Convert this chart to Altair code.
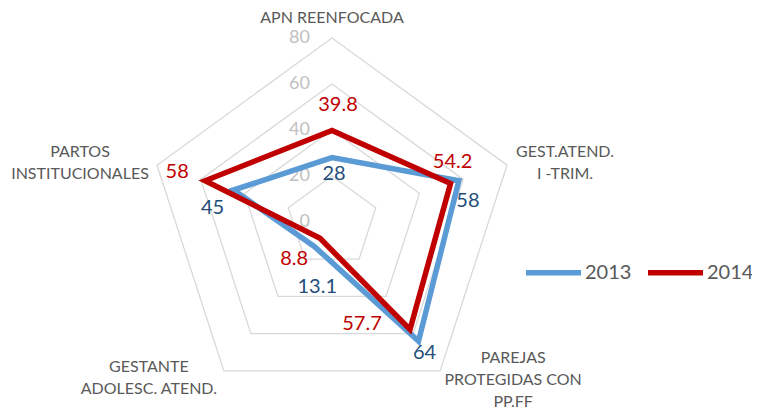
import altair as alt
import pandas as pd

# ---------------- data ----------------
categories = [
    "APN REENFOCADA",
    "GEST.ATEND.\nI -TRIM.",
    "PAREJAS\nPROTEGIDAS CON\nPP.FF",
    "GESTANTE\nADOLESC. ATEND.",
    "PARTOS\nINSTITUCIONALES",
]
series_names = ["2013", "2014"]
values_2013 = [28, 58, 64, 13.1, 45]
values_2014 = [39.8, 54.2, 57.7, 8.8, 58]
ring_values = [20, 40, 60, 80]
tick_values = [0, 20, 40, 60, 80]
axis_max = 80

# ---------------- layout / style ----------------
W, H = 744, 400
R_PX = 184          # pixel radius of the outer ring
CX, CY = 324, 214   # centre inside plot area
k = R_PX / axis_max
x_scale = alt.Scale(domain=[-CX / k, (W - CX) / k], nice=False, zero=False)
y_scale = alt.Scale(domain=[-(H - CY) / k, CY / k], nice=False, zero=False)

FONT = "Lato"
BLUE, RED = "#5B9BD5", "#C00000"
BLUE_TXT = "#1F4E79"
GRID = "#D9D9D9"
CAT_TXT = "#595959"
TICK_TXT = "#BFBFBF"
LINE_H = 22

n = len(categories)


def closed_rows(vals, **extra):
    rows = []
    for j in range(n + 2):
        i = j % n
        rows.append(dict(idx=i, order=j, value=vals[i], **extra))
    return rows


series_vals = {"2013": values_2013, "2014": values_2014}
series_df = pd.DataFrame(
    closed_rows(values_2013, series="2013") + closed_rows(values_2014, series="2014")
)
grid_rows = []
for r in ring_values:
    grid_rows += closed_rows([r] * n, ring=r)
grid_df = pd.DataFrame(grid_rows)

label_df = pd.DataFrame(
    [
        dict(series=s, idx=i, value=v, label=f"{v:g}")
        for s in series_names
        for i, v in enumerate(series_vals[s])
    ]
)
cat_df = pd.DataFrame([dict(idx=i, value=axis_max, label=c) for i, c in enumerate(categories)])
tick_df = pd.DataFrame([dict(idx=0, value=t, label=str(t)) for t in tick_values])

polar = dict(
    ang=f"datum.idx * 2 * PI / {n}",
    px="datum.value * sin(datum.ang)",
    py="datum.value * cos(datum.ang)",
)
X = alt.X("px:Q", scale=x_scale, axis=None)
Y = alt.Y("py:Q", scale=y_scale, axis=None)

grid = (
    alt.Chart(grid_df)
    .transform_calculate(**polar)
    .mark_line(color=GRID, strokeWidth=1.3)
    .encode(x=X, y=Y, detail="ring:N", order="order:Q")
)

ticks = (
    alt.Chart(tick_df)
    .transform_calculate(**polar)
    .mark_text(align="right", baseline="middle", dx=-22, font=FONT, fontSize=18, color=TICK_TXT)
    .encode(x=X, y=Y, text="label:N")
)

lines = (
    alt.Chart(series_df)
    .transform_calculate(**polar)
    .mark_line(strokeWidth=5.5, strokeJoin="miter")
    .encode(
        x=X,
        y=Y,
        order="order:Q",
        color=alt.Color(
            "series:N",
            scale=alt.Scale(domain=series_names, range=[BLUE, RED]),
            legend=alt.Legend(
                title=None,
                orient="none",
                legendX=515,
                legendY=234,
                direction="horizontal",
                symbolType="stroke",
                symbolSize=3025,
                symbolStrokeWidth=5.5,
                labelFont=FONT,
                labelFontSize=20,
                labelColor=CAT_TXT,
                labelOffset=1,
                columnPadding=5,
                padding=0,
            ),
        ),
    )
)

label_offsets = {
    ("2013", 0): (2, 16), ("2013", 1): (9, 20), ("2013", 2): (6, 12),
    ("2013", 3): (3, 41), ("2013", 4): (-21, 18),
    ("2014", 0): (6, -25), ("2014", 1): (2, -21), ("2014", 2): (-48, -5),
    ("2014", 3): (-26, 21), ("2014", 4): (-28, -9),
}
label_layers = []
for (s, i), (dx, dy) in label_offsets.items():
    label_layers.append(
        alt.Chart(label_df)
        .transform_filter(f"datum.series == '{s}' && datum.idx == {i}")
        .transform_calculate(**polar)
        .mark_text(
            align="center", baseline="middle", dx=dx, dy=dy, font=FONT, fontSize=20,
            color=BLUE_TXT if s == "2013" else RED,
        )
        .encode(x=X, y=Y, text="label:N")
    )

# offsets of the centre of each label block from its outer vertex
cat_offsets = [(0, -20), (58, -2), (73, 9), (-75, 7), (-77, -2)]
cat_layers = []
for i, (dx, dy) in enumerate(cat_offsets):
    n_lines = categories[i].count("\n") + 1
    cat_layers.append(
        alt.Chart(cat_df)
        .transform_filter(f"datum.idx == {i}")
        .transform_calculate(**polar)
        .mark_text(
            align="center", baseline="middle", dx=dx,
            dy=dy - (n_lines - 1) * LINE_H / 2,
            font=FONT, fontSize=16, color=CAT_TXT, lineBreak="\n", lineHeight=LINE_H,
        )
        .encode(x=X, y=Y, text="label:N")
    )

chart = (
    alt.layer(grid, ticks, lines, *label_layers, *cat_layers)
    .properties(width=W, height=H, padding=0, autosize=alt.AutoSizeParams(type="none"), background="white")
    .configure_view(stroke=None)
)

chart.save("out.html", embed_options={"renderer": "svg", "actions": False})
